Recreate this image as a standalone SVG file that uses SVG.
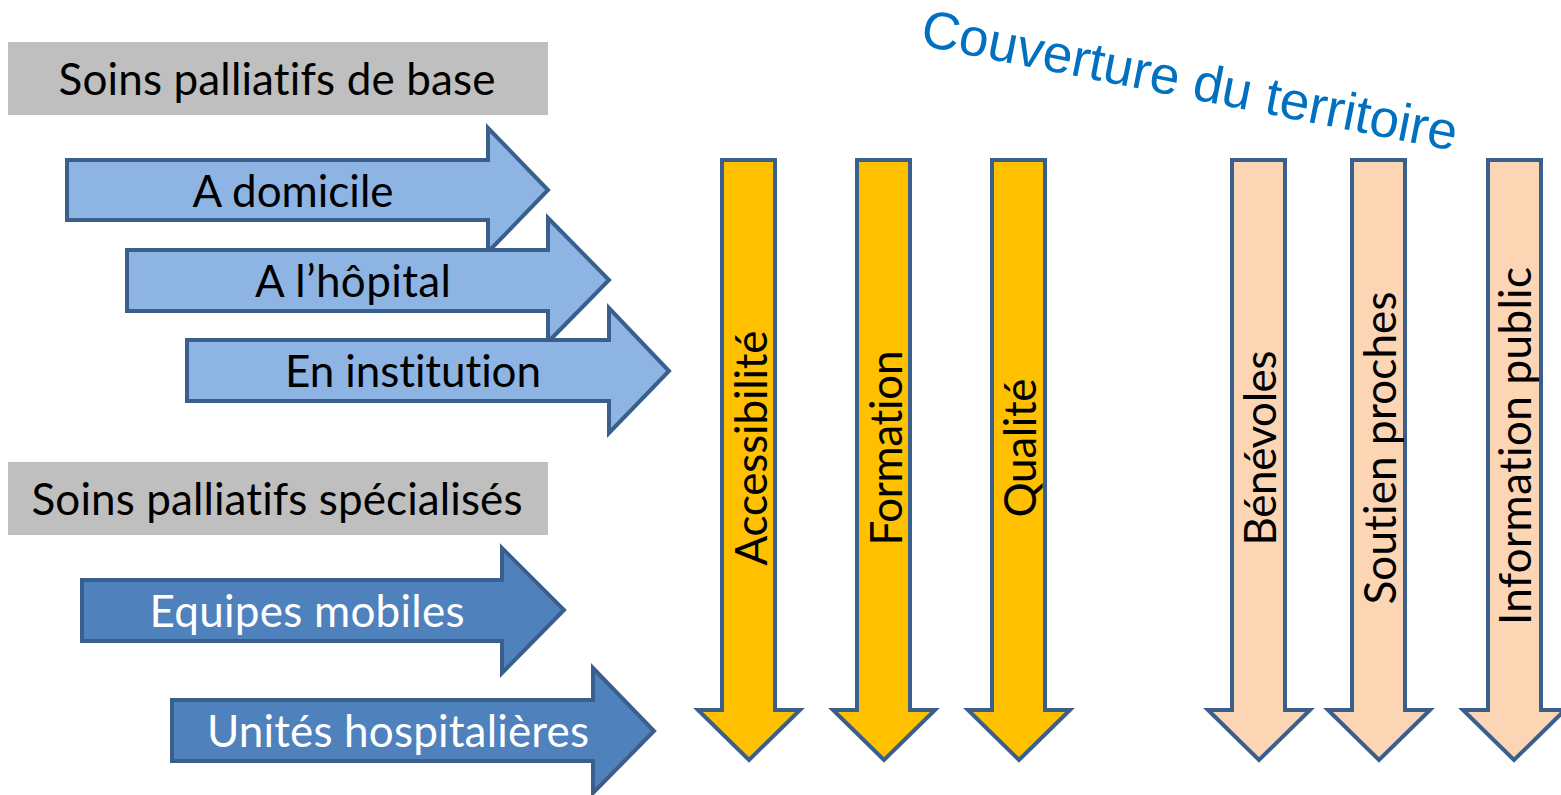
<svg xmlns="http://www.w3.org/2000/svg" width="1561" height="795" viewBox="0 0 1561 795">
<style>
.lab{font-family:Lato,"Open Sans",sans-serif;font-size:44px;text-anchor:middle;font-variant-ligatures:none}
.blk{fill:#000}
.wht{fill:#fff}
.light{fill:#8EB4E3;stroke:#3A5F8C;stroke-width:4;stroke-linejoin:miter}
.dark{fill:#4F81BD;stroke:#3A5F8C;stroke-width:4}
.yel{fill:#FFC000;stroke:#3A5F8C;stroke-width:4}
.pch{fill:#FCD5B5;stroke:#3A5F8C;stroke-width:4}
.gray{fill:#BFBFBF}
.title{font-family:"Liberation Sans",Arial,sans-serif;font-size:53px;fill:#0070C0}
</style>
<rect width="1561" height="795" fill="#fff"/>
<g id="title"><text class="title" transform="translate(919,45) rotate(11.2)">Couverture du territoire</text></g>
<g id="base-header"><rect class="gray" x="8" y="42" width="540" height="73"/><text class="lab blk" x="277" y="95" textLength="437">Soins palliatifs de base</text></g>
<g id="domicile"><path class="light" d="M67,160H488V128L548,190L488,252V220H67Z"/><text class="lab blk" x="293" y="207" textLength="201">A domicile</text></g>
<g id="hopital"><path class="light" d="M127,250H548V218L609,280L548,342V311H127Z"/><text class="lab blk" x="353" y="297" textLength="196">A l’hôpital</text></g>
<g id="institution"><path class="light" d="M187,340H609V308L669,371L609,433V401H187Z"/><text class="lab blk" x="413" y="387" textLength="256">En institution</text></g>
<g id="spec-header"><rect class="gray" x="8" y="462" width="540" height="73"/><text class="lab blk" x="277" y="515" textLength="491">Soins palliatifs spécialisés</text></g>
<g id="equipes"><path class="dark" d="M82,580H502V548L564,610L502,673V641H82Z"/><text class="lab wht" x="307" y="627" textLength="315">Equipes mobiles</text></g>
<g id="unites"><path class="dark" d="M172,700H593V668L654,731L593,793V761H172Z"/><text class="lab wht" x="398" y="747" textLength="382">Unités hospitalières</text></g>
<g id="accessibilite"><path class="yel" d="M722,160H775V710H800L749,760L698,710H722Z"/><text class="lab blk" transform="translate(767,448) rotate(-90)" textLength="235">Accessibilité</text></g>
<g id="formation"><path class="yel" d="M857,160H910V710H935L884,760L833,710H857Z"/><text class="lab blk" transform="translate(902,448) rotate(-90)" textLength="195">Formation</text></g>
<g id="qualite"><path class="yel" d="M992,160H1045V710H1070L1019,760L968,710H992Z"/><text class="lab blk" transform="translate(1036,448) rotate(-90)" textLength="139">Qualité</text></g>
<g id="benevoles"><path class="pch" d="M1232,160H1285V710H1310L1259,760L1208,710H1232Z"/><text class="lab blk" transform="translate(1276,448) rotate(-90)" textLength="195">Bénévoles</text></g>
<g id="soutien"><path class="pch" d="M1352,160H1405V710H1430L1379,760L1328,710H1352Z"/><text class="lab blk" transform="translate(1396,448) rotate(-90)" textLength="313">Soutien proches</text></g>
<g id="information"><path class="pch" d="M1488,160H1541V710H1565L1514,760L1463,710H1488Z"/><text class="lab blk" transform="translate(1531,446) rotate(-90)" textLength="358">Information public</text></g>
<g id="connectors"></g>
</svg>
